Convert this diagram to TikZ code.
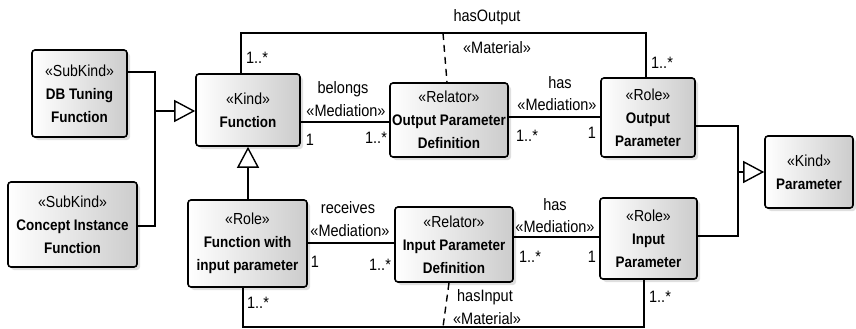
\documentclass[tikz,border=0pt]{standalone}
\usepackage{fontspec}
\setmainfont{Liberation Sans}[FakeStretch=0.88]
\usetikzlibrary{arrows.meta,shadows}

\tikzset{
  classbox/.style={draw, line width=1.6pt, rounded corners=3pt,
    left color=white, right color=black!20, align=center, inner sep=0pt,
    drop shadow={shadow xshift=3pt, shadow yshift=-3pt, opacity=0.25, fill=black!50},
    font=\fontsize{15.3}{23}\selectfont\bfseries},
  conn/.style={line width=1.4pt},
  genarrow/.style={conn, -{Triangle[open, length=21pt, width=22pt, line width=1.4pt]}},
  matdash/.style={conn, dash pattern=on 7pt off 5pt},
  lbl/.style={font=\fontsize{16.5}{18}\selectfont, inner sep=0pt},
}
\newcommand{\stereo}[1]{{\fontsize{16}{23}\selectfont\mdseries «#1»}}

\begin{document}
\begin{tikzpicture}[x=1pt, y=-1pt]
\useasboundingbox (0,0) rectangle (856,329);

% classes
\node[classbox, minimum width=95pt, minimum height=87pt] (dbt) at (79.5,93.5)
  {\stereo{SubKind}\\DB Tuning\\Function};
\node[classbox, minimum width=129pt, minimum height=85pt] (cif) at (72.5,224.5)
  {\stereo{SubKind}\\Concept Instance\\Function};
\node[classbox, minimum width=104pt, minimum height=72pt] (fn) at (248,110)
  {\stereo{Kind}\\Function};
\node[classbox, minimum width=119pt, minimum height=87pt] (fwip) at (247.5,243.5)
  {\stereo{Role}\\Function with\\input parameter};
\node[classbox, minimum width=118pt, minimum height=74pt] (opd) at (449,120)
  {\stereo{Relator}\\Output Parameter\\Definition};
\node[classbox, minimum width=118pt, minimum height=75pt] (ipd) at (454,244.5)
  {\stereo{Relator}\\Input Parameter\\Definition};
\node[classbox, minimum width=94pt, minimum height=79pt] (op) at (648,117.5)
  {\stereo{Role}\\Output\\Parameter};
\node[classbox, minimum width=97pt, minimum height=81pt] (ip) at (648.5,238.5)
  {\stereo{Role}\\Input\\Parameter};
\node[classbox, minimum width=88pt, minimum height=72pt] (par) at (809,172)
  {\stereo{Kind}\\Parameter};

% routing points
\coordinate (hoL) at (241,33);
\coordinate (hoR) at (646,33);
\coordinate (hoM) at (443,33);
\coordinate (hiL) at (243,327);
\coordinate (hiR) at (644,327);
\coordinate (hiM) at (443,327);
\coordinate (yBel) at (0,122);
\coordinate (yHo) at (0,117);
\coordinate (yRec) at (0,243);
\coordinate (yHi) at (0,237);
\coordinate (gA) at (155,72);
\coordinate (gB) at (155,226);
\coordinate (gJ) at (155,111);
\coordinate (pA) at (738,126);
\coordinate (pB) at (738,236);
\coordinate (pJ) at (738,172);
\coordinate (xG) at (248,0);

% material associations
\draw[conn] (fn.north -| hoL) -- (hoL) -- (hoR) -- (op.north -| hoR);
\draw[matdash] (hoM) -- ([xshift=4pt]opd.north -| hoM);
\draw[conn] (fwip.south -| hiL) -- (hiL) -- (hiR) -- (ip.south -| hiR);
\draw[matdash] ([xshift=6pt]ipd.south -| hiM) -- (hiM);

% mediations
\draw[conn] (fn.east |- yBel) -- (opd.west |- yBel);
\draw[conn] (opd.east |- yHo) -- (op.west |- yHo);
\draw[conn] (fwip.east |- yRec) -- (ipd.west |- yRec);
\draw[conn] (ipd.east |- yHi) -- (ip.west |- yHi);

% generalizations
\draw[conn] (dbt.east |- gA) -- (gA) -- (gB) -- (cif.east |- gB);
\draw[genarrow] (gJ) -- (fn.west |- gJ);
\draw[genarrow] (fwip.north -| xG) -- (fn.south -| xG);
\draw[conn] (op.east |- pA) -- (pA) -- (pB) -- (ip.east |- pB);
\draw[genarrow] (pJ) -- (par.west |- pJ);

% association labels
\node[lbl] (tHo) at (487,17) {hasOutput};
\node[lbl] (sHo) at (497,48) {«Material»};
\node[lbl] (tHi) at (485,297) {hasInput};
\node[lbl] (sHi) at (487,319) {«Material»};
\node[lbl] (tBel) at (343,89) {belongs};
\node[lbl] (sBel) at (346,111) {«Mediation»};
\node[lbl] (tHas1) at (560,83) {has};
\node[lbl] (sHas1) at (557,105) {«Mediation»};
\node[lbl] (tRec) at (348,208) {receives};
\node[lbl] (sRec) at (350,231) {«Mediation»};
\node[lbl] (tHas2) at (555,205) {has};
\node[lbl] (sHas2) at (555,227) {«Mediation»};

% multiplicities
\node[lbl] (m1) at (257,58) {1..*};
\node[lbl] (m2) at (662,63) {1..*};
\node[lbl] (m3) at (310,140) {1};
\node[lbl] (m4) at (376,138) {1..*};
\node[lbl] (m5) at (527,136) {1..*};
\node[lbl] (m6) at (592,133) {1};
\node[lbl] (m7) at (315,262) {1};
\node[lbl] (m8) at (380,265) {1..*};
\node[lbl] (m9) at (530,257) {1..*};
\node[lbl] (m10) at (592,257) {1};
\node[lbl] (m11) at (258,303) {1..*};
\node[lbl] (m12) at (660,297) {1..*};
\end{tikzpicture}
\end{document}
